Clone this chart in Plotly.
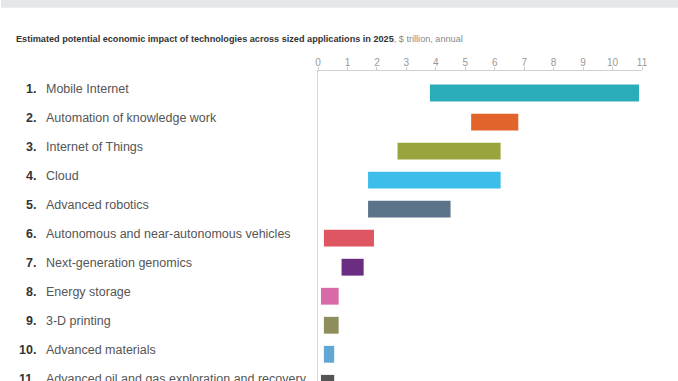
import plotly.graph_objects as go

# ---- data ----
ranks = ["1.", "2.", "3.", "4.", "5.", "6.", "7.", "8.", "9.", "10.", "11."]
technologies = [
    "Mobile Internet",
    "Automation of knowledge work",
    "Internet of Things",
    "Cloud",
    "Advanced robotics",
    "Autonomous and near-autonomous vehicles",
    "Next-generation genomics",
    "Energy storage",
    "3-D printing",
    "Advanced materials",
    "Advanced oil and gas exploration and recovery",
]
low_values = [3.8, 5.2, 2.7, 1.7, 1.7, 0.2, 0.8, 0.1, 0.2, 0.2, 0.1]
high_values = [10.9, 6.8, 6.2, 6.2, 4.5, 1.9, 1.55, 0.7, 0.7, 0.55, 0.55]
tick_values = list(range(0, 12))

# ---- styles ----
bar_colors = ["#2badb8", "#e2632b", "#9aa43c", "#3dbde9", "#5b7489", "#dd5661",
              "#6b2d82", "#d86aa9", "#8e8d5c", "#62a7d3", "#555555"]
FONT = "Liberation Sans, Arial, Helvetica, sans-serif"
W, H = 678, 381
ML, MR, MT, MB = 317.5, 36, 71.3, 0
plot_h = H - MT - MB
Y_RANGE = [9.92, -0.759]

positions = list(range(len(technologies)))


def to_paper_y(v):
    # map a y-axis value onto paper coordinates (axis is reversed)
    return (Y_RANGE[0] - v) / (Y_RANGE[0] - Y_RANGE[1])


fig = go.Figure()
fig.add_trace(go.Bar(
    y=positions,
    x=[h - l for l, h in zip(low_values, high_values)],
    base=low_values,
    orientation="h",
    width=0.58,
    marker=dict(color=bar_colors, line=dict(width=0)),
    hoverinfo="skip",
))

annotations = []
for pos, rk, name in zip(positions, ranks, technologies):
    py = to_paper_y(pos)
    annotations.append(dict(
        x=0, xref="paper", y=py, yref="paper", xshift=-(ML - 37), yshift=4,
        text=f"<b>{rk}</b>", showarrow=False, xanchor="right", yanchor="middle",
        font=dict(family=FONT, size=12.5, color="#333333"),
    ))
    annotations.append(dict(
        x=0, xref="paper", y=py, yref="paper", xshift=-(ML - 43.5), yshift=4,
        text=name, showarrow=False, xanchor="left", yanchor="middle",
        font=dict(family=FONT, size=12.5, color="#555555"),
    ))

# top grey band
band_top = 1 + MT / plot_h
band_bot = 1 + (MT - 8) / plot_h

fig.update_layout(
    width=W, height=H,
    margin=dict(l=ML, r=MR, t=MT, b=MB, pad=0),
    paper_bgcolor="white", plot_bgcolor="white",
    showlegend=False,
    title=dict(
        text="<b>Estimated potential economic impact of technologies across sized applications in 2025</b>"
             "<span style='color:#8a8a8a'>, $ trillion, annual</span>",
        x=16 / W, xref="container", xanchor="left",
        y=1 - 39 / H, yref="container", yanchor="middle",
        font=dict(family=FONT, size=9.15, color="#333333"),
    ),
    xaxis=dict(
        side="top", range=[0, 11], tickvals=tick_values,
        ticks="outside", ticklen=3, tickcolor="#cccccc",
        showline=True, linecolor="#d0d0d0", linewidth=1,
        showgrid=False, zeroline=False,
        tickfont=dict(family=FONT, size=10, color="#999999"),
        ticklabelstandoff=-3,
        fixedrange=True,
    ),
    yaxis=dict(
        range=Y_RANGE, showticklabels=False, ticks="",
        showline=True, linecolor="#d8d8d8", linewidth=1,
        showgrid=False, zeroline=False, fixedrange=True,
    ),
    annotations=annotations,
    shapes=[dict(type="rect", xref="paper", yref="paper",
                 x0=-ML / (W - ML - MR), x1=1 + MR / (W - ML - MR),
                 y0=band_bot, y1=band_top,
                 fillcolor="#e4e8ea", line=dict(width=0), layer="below")],
)

fig.write_html(
    "out.html",
    config={"displayModeBar": False},
    post_script="document.body.style.margin='0';document.body.style.padding='0';"
                "document.body.style.overflow='hidden';",
)
